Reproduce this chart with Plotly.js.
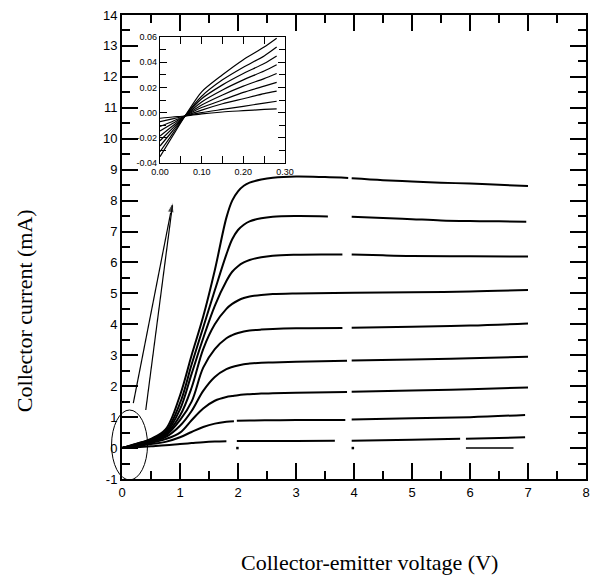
<!DOCTYPE html>
<html>
<head>
<meta charset="utf-8">
<script src="https://cdn.plot.ly/plotly-3.0.1.min.js"></script>
<style>html,body{margin:0;padding:0;background:#fff;}</style>
</head>
<body>
<div id="chart" style="width:597px;height:575px;"></div>
<script>
// ---------- main chart data (Vce in V, Ic in mA) ----------
const vce1 = [0,0.25,0.5,0.75,1.0,1.2,1.4,1.6,1.8,1.9,2.0,2.1,2.2,2.4,2.6,3.0,3.5,3.9,3.93,3.96,4.5,5.0,5.5,6.0,6.5,7.0];
const ic1  = [0,0.14,0.3,0.6,1.7,3.0,4.25,5.75,7.45,8.0,8.3,8.48,8.58,8.68,8.74,8.78,8.76,8.73,null,8.72,8.66,8.62,8.58,8.55,8.51,8.47];

const vce2 = [0,0.25,0.5,0.75,1.0,1.2,1.4,1.6,1.8,1.9,2.0,2.1,2.2,2.4,2.6,3.0,3.55,3.75,3.96,4.5,5.0,5.5,6.0,6.5,6.97];
const ic2  = [0,0.13,0.28,0.53,1.45,2.7,3.9,5.1,6.26,6.75,7.05,7.22,7.33,7.43,7.48,7.5,7.49,null,7.48,7.44,7.4,7.36,7.34,7.33,7.32];

const vce3 = [0,0.25,0.5,0.75,1.0,1.2,1.4,1.6,1.8,1.9,2.0,2.1,2.2,2.4,2.6,3.0,3.5,3.8,3.88,3.96,4.5,5.0,6.0,7.0];
const ic3  = [0,0.12,0.26,0.48,1.25,2.4,3.55,4.6,5.4,5.7,5.88,6.0,6.08,6.17,6.22,6.25,6.26,6.26,null,6.26,6.23,6.21,6.2,6.19];

const vce4 = [0,0.25,0.5,0.75,1.0,1.2,1.4,1.6,1.8,1.9,2.0,2.1,2.2,2.4,2.6,3.0,4.0,5.0,6.0,7.0];
const ic4  = [0,0.11,0.24,0.44,1.05,1.95,3.2,4.0,4.5,4.66,4.77,4.85,4.9,4.95,4.98,5.0,5.02,5.04,5.06,5.11];

const vce5 = [0,0.25,0.5,0.75,1.0,1.2,1.4,1.6,1.8,1.9,2.0,2.1,2.2,2.4,2.6,3.0,3.8,3.88,3.96,5.0,6.0,7.0];
const ic5  = [0,0.1,0.22,0.4,0.9,1.5,2.6,3.2,3.55,3.65,3.72,3.77,3.8,3.83,3.85,3.87,3.88,null,3.89,3.92,3.96,4.03];

const vce6 = [0,0.25,0.5,0.75,1.0,1.2,1.4,1.6,1.8,1.9,2.0,2.1,2.2,2.4,2.6,3.0,3.88,3.92,3.96,5.0,6.0,7.0];
const ic6  = [0,0.09,0.2,0.35,0.72,1.2,1.85,2.3,2.55,2.62,2.67,2.71,2.73,2.76,2.77,2.79,2.82,null,2.83,2.86,2.9,2.95];

const vce7 = [0,0.25,0.5,0.75,1.0,1.2,1.4,1.6,1.8,1.9,2.0,2.1,2.2,2.4,2.6,3.0,3.88,3.92,3.96,5.0,6.0,7.0];
const ic7  = [0,0.08,0.17,0.29,0.5,0.9,1.28,1.53,1.65,1.68,1.71,1.73,1.74,1.76,1.77,1.79,1.81,null,1.82,1.86,1.9,1.96];

const vce8 = [0,0.25,0.5,0.75,1.0,1.2,1.4,1.6,1.8,1.93,1.95,1.98,2.2,2.6,3.0,3.85,3.9,3.96,5.0,6.0,6.95];
const ic8  = [0,0.06,0.13,0.2,0.35,0.52,0.68,0.79,0.85,0.87,null,0.88,0.89,0.9,0.905,0.91,null,0.92,0.96,1.0,1.07];

const vce9 = [0,0.25,0.5,0.75,1.0,1.2,1.4,1.6,1.8,1.9,1.98,3.0,3.67,3.8,3.96,5.0,5.83,5.88,5.93,6.95];
const ic9  = [0,0.03,0.06,0.09,0.13,0.16,0.19,0.21,0.22,null,0.23,0.23,0.24,null,0.24,0.27,0.3,null,0.3,0.35];

// stray marks near zero current
const strayX = [5.93,6.75];
const strayY = [0,0];
const dotX = [1.99,3.98];
const dotY = [0,0];

// ---------- inset data (Vce in V, Ic in mA) ----------
const vceIn = [0,0.03,0.06,0.10,0.15,0.20,0.25,0.28];
const in1 = [-0.0045,-0.0035,-0.0027,-0.001,0.0005,0.0015,0.0025,0.003];
const in2 = [-0.0072,-0.005,-0.0027,0.000,0.0025,0.005,0.0075,0.009];
const in3 = [-0.011,-0.007,-0.0027,0.002,0.007,0.011,0.015,0.017];
const in4 = [-0.0146,-0.0087,-0.0027,0.004,0.010,0.016,0.021,0.024];
const in5 = [-0.0186,-0.0107,-0.0027,0.006,0.014,0.021,0.027,0.031];
const in6 = [-0.0223,-0.0125,-0.0027,0.0085,0.018,0.026,0.033,0.038];
const in7 = [-0.0265,-0.0146,-0.0027,0.011,0.022,0.031,0.039,0.045];
const in8 = [-0.031,-0.0168,-0.0027,0.013,0.026,0.036,0.045,0.052];
const in9 = [-0.035,-0.0188,-0.0027,0.0165,0.030,0.042,0.052,0.059];

// ---------- tick labels ----------
const xMainTicks = [0,1,2,3,4,5,6,7,8];
const xMainLabels = ['0','1','2','3','4','5','6','7','8'];
const yMainTicks = [-1,0,1,2,3,4,5,6,7,8,9,10,11,12,13,14];
const yMainLabels = ['-1','0','1','2','3','4','5','6','7','8','9','10','11','12','13','14'];
const xInTicks = [0,0.1,0.2,0.3];
const xInLabels = ['0.00','0.10','0.20','0.30'];
const yInTicks = [-0.04,-0.02,0,0.02,0.04,0.06];
const yInLabels = ['-0.04','-0.02','0.00','0.02','0.04','0.06'];

// pointer geometry (data units)
const ellipseX = [-0.18,0.44];
const ellipseY = [-1.03,1.23];
const arrow1X = [0.195,0.875];
const arrow1Y = [1.45,7.95];
const arrow2X = [0.41,0.87];
const arrow2Y = [1.23,7.85];

const xRange = [0,8], yRange = [-1,14];

const mainSets = [[vce1,ic1],[vce2,ic2],[vce3,ic3],[vce4,ic4],[vce5,ic5],[vce6,ic6],[vce7,ic7],[vce8,ic8],[vce9,ic9]];
const inSets = [in1,in2,in3,in4,in5,in6,in7,in8,in9];

const traces = [];
mainSets.forEach(function(s){
  traces.push({x:s[0], y:s[1], type:'scatter', mode:'lines', xaxis:'x', yaxis:'y',
    line:{color:'black', width:2, shape:'spline', smoothing:1}, connectgaps:false});
});
traces.push({x:strayX, y:strayY, type:'scatter', mode:'lines', xaxis:'x', yaxis:'y',
  line:{color:'black', width:1.5}});
traces.push({x:dotX, y:dotY, type:'scatter', mode:'markers', xaxis:'x', yaxis:'y',
  marker:{color:'black', size:2.5, symbol:'square'}});
traces.push({x:arrow1X, y:arrow1Y, type:'scatter', mode:'lines+markers', xaxis:'x', yaxis:'y',
  line:{color:'black', width:1.2}, marker:{color:'black', size:[0,11], symbol:'arrow', angleref:'previous'}});
traces.push({x:arrow2X, y:arrow2Y, type:'scatter', mode:'lines', xaxis:'x', yaxis:'y',
  line:{color:'black', width:1.2}});
inSets.forEach(function(v){
  traces.push({x:vceIn, y:v, type:'scatter', mode:'lines', xaxis:'x2', yaxis:'y2',
    line:{color:'black', width:1.2, shape:'spline', smoothing:0.7}});
});

const px = function(x){ return (x - xRange[0])/(xRange[1]-xRange[0]); };
const py = function(y){ return (y - yRange[0])/(yRange[1]-yRange[0]); };
const fMain = {size:13, color:'black', family:'Liberation Sans, Arial, sans-serif'};
const fIn = {size:9, color:'black', family:'Liberation Sans, Arial, sans-serif'};

const layout = {
  width:597, height:575,
  margin:{l:122, r:11, t:15, b:96},
  showlegend:false,
  modebar:{bgcolor:'rgba(0,0,0,0)', color:'rgba(0,0,0,0)', activecolor:'rgba(0,0,0,0)'},
  xaxis:{domain:[0,1], anchor:'y', range:xRange, tickmode:'array', tickvals:xMainTicks, ticktext:xMainLabels,
    ticks:'inside', ticklen:16, tickwidth:1.5, tickcolor:'black', showline:true, linewidth:2, linecolor:'black', mirror:'ticks',
    showgrid:false, zeroline:false, tickfont:fMain,
    minor:{dtick:0.5, ticks:'inside', ticklen:8, tickwidth:1.5, tickcolor:'black'}},
  yaxis:{domain:[0,1], anchor:'x', range:yRange, tickmode:'array', tickvals:yMainTicks, ticktext:yMainLabels,
    ticks:'inside', ticklen:16, tickwidth:1.5, tickcolor:'black', showline:true, linewidth:2, linecolor:'black', mirror:'ticks',
    showgrid:false, zeroline:false, tickfont:fMain,
    minor:{dtick:0.5, ticks:'inside', ticklen:8, tickwidth:1.5, tickcolor:'black'}},
  xaxis2:{domain:[0.0819,0.3513], anchor:'y2', range:[0,0.3], tickmode:'array', tickvals:xInTicks, ticktext:xInLabels,
    ticks:'inside', ticklen:7, tickwidth:1, tickcolor:'black', showline:true, linewidth:1.2, linecolor:'black', mirror:'ticks',
    showgrid:false, zeroline:false, tickfont:fIn,
    minor:{dtick:0.05, ticks:'inside', ticklen:7}},
  yaxis2:{domain:[0.681,0.9526], anchor:'x2', range:[-0.04,0.06], tickmode:'array', tickvals:yInTicks, ticktext:yInLabels,
    ticks:'inside', ticklen:7, tickwidth:1, tickcolor:'black', showline:true, linewidth:1.2, linecolor:'black', mirror:'ticks',
    showgrid:false, zeroline:false, tickfont:fIn,
    minor:{dtick:0.01, ticks:'inside', ticklen:6}},
  shapes:[{
    type:'circle', xref:'paper', yref:'paper',
    x0:px(ellipseX[0]), x1:px(ellipseX[1]), y0:py(ellipseY[0]), y1:py(ellipseY[1]),
    line:{color:'black', width:1}
  }],
  annotations:[
    {xref:'paper', yref:'paper', x:-0.211, y:0.362, xanchor:'center', yanchor:'middle', textangle:-90,
     text:'Collector current (mA)', showarrow:false, font:{family:'Liberation Serif, Times New Roman, serif', size:22, color:'black'}},
    {xref:'paper', yref:'paper', x:0.534, y:-0.181, xanchor:'center', yanchor:'middle',
     text:'Collector-emitter voltage (V)', showarrow:false, font:{family:'Liberation Serif, Times New Roman, serif', size:22, color:'black'}}
  ]
};

Plotly.newPlot('chart', traces, layout, {displaylogo:false});
</script>
</body>
</html>
